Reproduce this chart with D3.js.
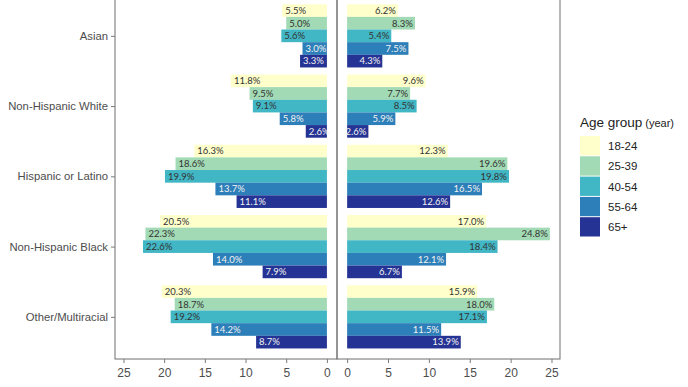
<!DOCTYPE html>
<html>
<head>
<meta charset="utf-8">
<script src="https://cdn.jsdelivr.net/npm/d3@7"></script>
<style>
  html, body { margin: 0; padding: 0; background: #fff; }
  svg { display: block; }
</style>
</head>
<body>
<svg id="chart" width="688" height="387"></svg>
<script>
// ---- Data ----
const categories = ["Asian", "Non-Hispanic White", "Hispanic or Latino", "Non-Hispanic Black", "Other/Multiracial"];
const ageGroups = ["18-24", "25-39", "40-54", "55-64", "65+"];
const ageColors = ["#FFFFCC", "#A1DAB4", "#41B6C4", "#2C7FB8", "#253494"];
const labelColors = ["#333333", "#333333", "#333333", "#F2F2F2", "#F2F2F2"];
const xTicks = [0, 5, 10, 15, 20, 25];

// Left panel values, one array per age group (order follows categories)
const left18_24 = [5.5, 11.8, 16.3, 20.5, 20.3];
const left25_39 = [5.0, 9.5, 18.6, 22.3, 18.7];
const left40_54 = [5.6, 9.1, 19.9, 22.6, 19.2];
const left55_64 = [3.0, 5.8, 13.7, 14.0, 14.2];
const left65up  = [3.3, 2.6, 11.1, 7.9, 8.7];

// Right panel values
const right18_24 = [6.2, 9.6, 12.3, 17.0, 15.9];
const right25_39 = [8.3, 7.7, 19.6, 24.8, 18.0];
const right40_54 = [5.4, 8.5, 19.8, 18.4, 17.1];
const right55_64 = [7.5, 5.9, 16.5, 12.1, 11.5];
const right65up  = [4.3, 2.6, 12.6, 6.7, 13.9];

const leftSeries = [left18_24, left25_39, left40_54, left55_64, left65up];
const rightSeries = [right18_24, right25_39, right40_54, right55_64, right65up];

function toRows(series) {
  const rows = [];
  categories.forEach((c, ci) => {
    ageGroups.forEach((a, ai) => {
      rows.push({ cat: c, age: a, ai: ai, value: series[ai][ci] });
    });
  });
  return rows;
}

// ---- Layout ----
const svg = d3.select("#chart");
const plotTop = -6.3, plotBottom = 359;
const maxV = 24.8, expand = maxV * 0.05;
const lineColor = "#7a7a7a";
const textColor = "#4D4D4D";

const y = d3.scaleBand().domain(categories).range([plotTop, plotBottom])
  .paddingInner(0.1).paddingOuter(0.15);
const yInner = d3.scaleBand().domain(ageGroups).range([0, y.bandwidth()]).padding(0);
const color = d3.scaleOrdinal().domain(ageGroups).range(ageColors);
const labColor = d3.scaleOrdinal().domain(ageGroups).range(labelColors);
const fmt = d3.format(".1f");

const xL = d3.scaleLinear().domain([maxV + expand, -expand]).range([115, 337]);
const xR = d3.scaleLinear().domain([-expand, maxV + expand]).range([337, 560]);

function drawPanel(x, rows, side) {
  const g = svg.append("g");
  const bars = g.selectAll("g.bar").data(rows).join("g").attr("class", "bar");
  bars.append("rect")
    .attr("x", d => Math.min(x(0), x(d.value)))
    .attr("width", d => Math.abs(x(d.value) - x(0)))
    .attr("y", d => y(d.cat) + yInner(d.age))
    .attr("height", yInner.bandwidth())
    .attr("fill", d => color(d.age));
  bars.append("text")
    .attr("x", d => side === "left" ? x(d.value) + 3 : x(d.value) - 2)
    .attr("y", d => y(d.cat) + yInner(d.age) + yInner.bandwidth() / 2)
    .attr("dy", "0.35em")
    .attr("text-anchor", side === "left" ? "start" : "end")
    .attr("font-family", "Lato, 'Open Sans', sans-serif")
    .attr("font-size", 9.5)
    .attr("fill", d => labColor(d.age))
    .text(d => fmt(d.value) + "%");

  // panel border
  const [x0, x1] = x.range().slice().sort((a, b) => a - b);
  g.append("rect")
    .attr("x", x0).attr("y", plotTop).attr("width", x1 - x0).attr("height", plotBottom - plotTop)
    .attr("fill", "none").attr("stroke", lineColor).attr("stroke-width", 1.1);

  // x axis
  const ax = g.append("g").attr("transform", `translate(0,${plotBottom})`)
    .call(d3.axisBottom(x).tickValues(xTicks).tickSize(4).tickPadding(5).tickFormat(d3.format("d")));
  ax.select(".domain").remove();
  ax.selectAll(".tick line").attr("stroke", lineColor);
  ax.selectAll(".tick text").attr("fill", textColor)
    .attr("font-family", "'Liberation Sans', Arial, sans-serif").attr("font-size", 12);
}

drawPanel(xL, toRows(leftSeries), "left");
drawPanel(xR, toRows(rightSeries), "right");

// y axis
const yAxisScale = d3.scalePoint().domain(categories)
  .range([y(categories[0]) + y.bandwidth() / 2, y(categories[categories.length - 1]) + y.bandwidth() / 2]);
const ay = svg.append("g").attr("transform", "translate(115,0)")
  .call(d3.axisLeft(yAxisScale).tickSize(4).tickPadding(3));
ay.select(".domain").remove();
ay.selectAll(".tick line").attr("stroke", lineColor);
ay.selectAll(".tick text").attr("fill", textColor)
  .attr("font-family", "'Liberation Sans', Arial, sans-serif").attr("font-size", 11.3);

// legend
const lg = svg.append("g").attr("transform", "translate(580,0)");
const title = lg.append("text").attr("x", 0).attr("y", 127)
  .attr("font-family", "'Liberation Sans', Arial, sans-serif").attr("fill", "#222");
title.append("tspan").attr("font-size", 13.5).text("Age group");
title.append("tspan").attr("font-size", 11).attr("dx", 3).text("(year)");
const keyH = 20.3, keyTop = 136;
const items = lg.selectAll("g.key").data(ageGroups).join("g").attr("class", "key")
  .attr("transform", (d, i) => `translate(0,${keyTop + i * keyH})`);
items.append("rect").attr("width", 20).attr("height", keyH - 1).attr("fill", d => color(d));
items.append("text").attr("x", 28).attr("y", keyH / 2).attr("dy", "0.35em")
  .attr("font-family", "'Liberation Sans', Arial, sans-serif").attr("font-size", 11.5)
  .attr("fill", "#222").text(d => d);
</script>
</body>
</html>
